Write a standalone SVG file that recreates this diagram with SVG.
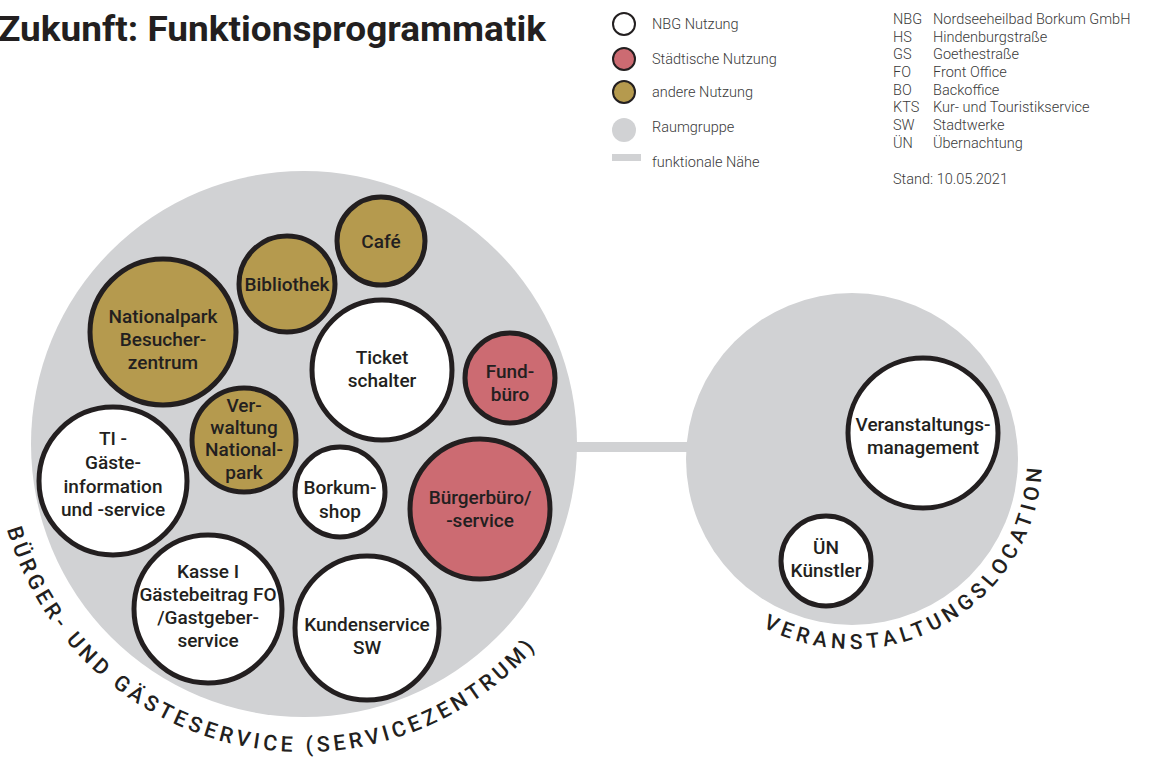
<svg xmlns="http://www.w3.org/2000/svg" width="1151" height="760" viewBox="0 0 1151 760">
<defs>
<style>
.grp{fill:#d1d2d4;}
.n{stroke:#231f20;stroke-width:5;}
.nbg{fill:#ffffff;}
.st{fill:#cc6b72;}
.an{fill:#b59a4e;}
.lbl{font-family:Roboto,"Liberation Sans",sans-serif;font-weight:500;font-size:19px;fill:#231f20;text-anchor:middle;}
.leg{font-family:Roboto,"Liberation Sans",sans-serif;font-weight:300;font-size:14.5px;fill:#3a3a3a;}
.arc{font-family:Roboto,"Liberation Sans",sans-serif;font-weight:500;fill:#231f20;}
</style>
<path id="arcL" d="M 6.9 529.2 A 309 309 0 0 0 557 620"/>
<path id="arcR" d="M 762.8 626.8 A 190 190 0 0 0 1041.7 469"/>
</defs>
<rect width="1151" height="760" fill="#ffffff"/>
<text x="-2" y="40.5" font-family="Roboto,'Liberation Sans',sans-serif" font-weight="700" font-size="35" fill="#231f20" textLength="548" lengthAdjust="spacingAndGlyphs">Zukunft: Funktionsprogrammatik</text>

<g id="legend">
<circle cx="624" cy="24" r="11" class="nbg" stroke="#231f20" stroke-width="2"/>
<circle cx="624" cy="59" r="11" class="st" stroke="#231f20" stroke-width="2"/>
<circle cx="624" cy="92" r="11" class="an" stroke="#231f20" stroke-width="2"/>
<circle cx="624" cy="130" r="12" class="grp"/>
<rect x="612" y="154" width="29" height="7" class="grp"/>
<text class="leg" x="652" y="29">NBG Nutzung</text>
<text class="leg" x="652" y="64">Städtische Nutzung</text>
<text class="leg" x="652" y="97">andere Nutzung</text>
<text class="leg" x="652" y="132">Raumgruppe</text>
<text class="leg" x="652" y="167">funktionale Nähe</text>
</g>

<g id="abbrev" class="leg">
<text x="893" y="24">NBG</text><text x="933" y="24">Nordseeheilbad Borkum GmbH</text>
<text x="893" y="42">HS</text><text x="933" y="42">Hindenburgstraße</text>
<text x="893" y="59">GS</text><text x="933" y="59">Goethestraße</text>
<text x="893" y="77">FO</text><text x="933" y="77">Front Office</text>
<text x="893" y="95">BO</text><text x="933" y="95">Backoffice</text>
<text x="893" y="112">KTS</text><text x="933" y="112">Kur- und Touristikservice</text>
<text x="893" y="130">SW</text><text x="933" y="130">Stadtwerke</text>
<text x="893" y="148">ÜN</text><text x="933" y="148">Übernachtung</text>
<text x="893" y="184">Stand: 10.05.2021</text>
</g>

<g id="connectors">
<rect x="570" y="442" width="125" height="10" class="grp"/>
</g>

<g id="servicezentrum">
<circle cx="304" cy="444" r="273" class="grp"/>
<text class="arc" font-size="21.5" letter-spacing="4"><textPath href="#arcL">BÜRGER- UND GÄSTESERVICE (SERVICEZENTRUM)</textPath></text>
</g>

<g id="veranstaltungslocation">
<circle cx="852" cy="459" r="166" class="grp"/>
<text class="arc" font-size="21" letter-spacing="4.7"><textPath href="#arcR">VERANSTALTUNGSLOCATION</textPath></text>
</g>

<g id="cafe"><circle cx="381" cy="241" r="44" class="n an"/><text class="lbl" x="381" y="248">Café</text></g>
<g id="bibliothek"><circle cx="287" cy="284" r="48" class="n an"/><text class="lbl" x="287" y="291">Bibliothek</text></g>
<g id="nationalpark"><circle cx="163" cy="332" r="73" class="n an"/><text class="lbl" x="163" y="323">Nationalpark</text><text class="lbl" x="163" y="346">Besucher-</text><text class="lbl" x="163" y="369">zentrum</text></g>
<g id="verwaltung"><circle cx="244" cy="440" r="52" class="n an"/><text class="lbl" x="244" y="412">Ver-</text><text class="lbl" x="244" y="434">waltung</text><text class="lbl" x="244" y="456">National-</text><text class="lbl" x="244" y="479">park</text></g>
<g id="ti"><circle cx="113" cy="481" r="74" class="n nbg"/><text class="lbl" x="113" y="445">TI -</text><text class="lbl" x="113" y="469">Gäste-</text><text class="lbl" x="113" y="493">information</text><text class="lbl" x="113" y="516">und -service</text></g>
<g id="ticket"><circle cx="382" cy="370" r="70" class="n nbg"/><text class="lbl" x="382" y="364">Ticket</text><text class="lbl" x="382" y="387">schalter</text></g>
<g id="fundbuero"><circle cx="510" cy="378" r="45" class="n st"/><text class="lbl" x="510" y="378">Fund-</text><text class="lbl" x="510" y="401">büro</text></g>
<g id="borkumshop"><circle cx="340" cy="492" r="45" class="n nbg"/><text class="lbl" x="340" y="494">Borkum-</text><text class="lbl" x="340" y="518">shop</text></g>
<g id="buergerbuero"><circle cx="480" cy="509" r="70" class="n st"/><text class="lbl" x="480" y="504">Bürgerbüro/</text><text class="lbl" x="480" y="527">-service</text></g>
<g id="kasse"><circle cx="208" cy="609" r="74" class="n nbg"/><text class="lbl" x="208" y="578">Kasse  I</text><text class="lbl" x="208" y="601">Gästebeitrag FO</text><text class="lbl" x="208" y="624">/Gastgeber-</text><text class="lbl" x="208" y="647">service</text></g>
<g id="kundenservice"><circle cx="367" cy="628" r="72" class="n nbg"/><text class="lbl" x="367" y="631">Kundenservice</text><text class="lbl" x="367" y="654">SW</text></g>
<g id="veranstaltungsmanagement"><circle cx="923" cy="433" r="75" class="n nbg"/><text class="lbl" x="923" y="431">Veranstaltungs-</text><text class="lbl" x="923" y="454">management</text></g>
<g id="uen"><circle cx="826" cy="561" r="45" class="n nbg"/><text class="lbl" x="826" y="554">ÜN</text><text class="lbl" x="826" y="577">Künstler</text></g>
</svg>
